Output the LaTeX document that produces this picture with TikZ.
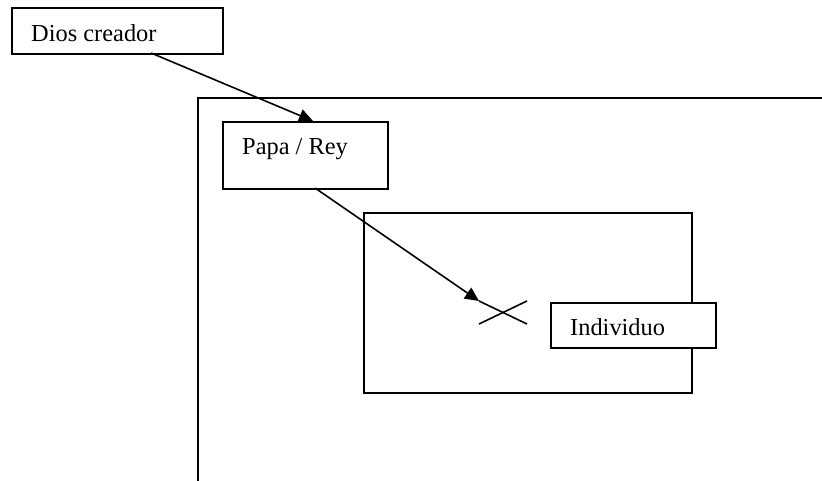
\documentclass[tikz,border=0pt]{standalone}
\usepackage{fontspec}
\setmainfont{Liberation Serif}
\usetikzlibrary{arrows.meta}
\begin{document}
\begin{tikzpicture}[x=1pt,y=-1pt,
  ln/.style={line width=1.6pt, black},
  boxn/.style={ln, draw, rectangle, inner sep=0pt, anchor=north west},
  lbl/.style={anchor=base west, inner sep=0pt, font=\fontsize{24.4}{28}\selectfont},
  arr/.style={ln, -{Triangle[length=14pt,width=13pt]}}]
\useasboundingbox (0,0) rectangle (822,481);
% outer frame
\draw[ln] (198,481) -- (198,98) -- (822,98);
% boxes
\node[boxn, minimum width=211pt, minimum height=46pt] (dios) at (11,7) {};
\node[lbl] (diost) at (31,41.5) {Dios creador};
\node[boxn, minimum width=165pt, minimum height=67pt] (papa) at (222,121) {};
\node[lbl] (papat) at (242,154.5) {Papa / Rey};
\node[boxn, minimum width=328pt, minimum height=180pt] (inner) at (363,212) {};
\node[boxn, fill=white, minimum width=165pt, minimum height=45pt] (indiv) at (550,302) {};
\node[lbl] (indivt) at (570,335) {Individuo};
% cross
\coordinate (x1) at (479,301);
\coordinate (x2) at (527,324);
\coordinate (x3) at (479,324);
\coordinate (x4) at (527,301);
\draw[ln] (x1) -- (x2);
\draw[ln] (x3) -- (x4);
% arrows
\coordinate (a1) at (151,53);
\coordinate (a1e) at (313,121);
\draw[arr] (a1) -- (a1e);
\coordinate (a2) at (315,188);
\draw[arr] (a2) -- (x1);
\end{tikzpicture}
\end{document}
